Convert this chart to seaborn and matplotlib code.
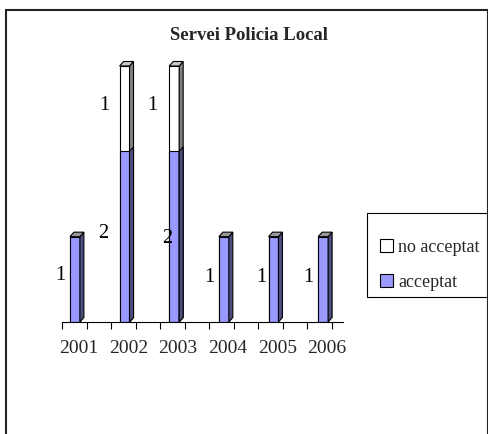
import matplotlib
matplotlib.use("Agg")
import matplotlib.pyplot as plt
import seaborn as sns
import pandas as pd
import numpy as np
from matplotlib.patches import Polygon, Patch, Rectangle

years = ["2001", "2002", "2003", "2004", "2005", "2006"]
acceptat = [1, 2, 2, 1, 1, 1]
no_acceptat = [0, 1, 1, 0, 0, 0]
title = "Servei Policia Local"
series_names = ["no acceptat", "acceptat"]

sns.set_theme(style="white")
plt.rcParams["font.family"] = ["Liberation Serif", "DejaVu Serif"]

total = [a + n for a, n in zip(acceptat, no_acceptat)]
df = pd.DataFrame({"year": years, "acceptat": acceptat, "total": total})

fig = plt.figure(figsize=(4.89, 4.34), dpi=100)
W, H = 489, 434
ax = fig.add_axes([62 / W, 1 - 322 / H, (343 - 62) / W, (322 - 66) / H])

BLUE = "#9999ff"
sns.barplot(data=df, x="year", y="total", color="white", width=0.2,
            edgecolor="black", linewidth=0.8, ax=ax, saturation=1)
sns.barplot(data=df, x="year", y="acceptat", color=BLUE, width=0.2,
            edgecolor="black", linewidth=0.8, ax=ax, saturation=1)

ax.set_xlim(-0.26, 5.4)
ax.set_ylim(0, 3)

# pixel -> data conversions for 3D depth
ppx = 281 / (5.4 + 0.26)
ppy = 256 / 3
dx = 4 / ppx
dy = 4.5 / ppy

patches = list(ax.patches)
n = len(years)
white_bars = patches[:n]
blue_bars = patches[n:2 * n]

def add_depth(p, side_color, top_color, draw_top=True):
    x0 = p.get_x(); w = p.get_width(); y0 = p.get_y(); h = p.get_height()
    if h <= 0:
        return
    x1 = x0 + w; y1 = y0 + h
    side = Polygon([(x1, y0), (x1 + dx, y0 + dy), (x1 + dx, y1 + dy), (x1, y1)],
                   closed=True, facecolor=side_color, edgecolor="black",
                   linewidth=0.8, clip_on=False, zorder=p.get_zorder())
    ax.add_patch(side)
    if draw_top:
        top = Polygon([(x0, y1), (x1, y1), (x1 + dx, y1 + dy), (x0 + dx, y1 + dy)],
                      closed=True, facecolor=top_color, edgecolor="black",
                      linewidth=0.8, clip_on=False, zorder=p.get_zorder())
        ax.add_patch(top)

for wb, bb, a, nn in zip(white_bars, blue_bars, acceptat, no_acceptat):
    if nn > 0:
        add_depth(wb, "#808080", "#c8c8c8", True)
        add_depth(bb, "#4d4d80", "#999999", False)
    else:
        add_depth(bb, "#4d4d80", "#999999", True)

# data labels
acc_gap = [5, 11, -3, 5, 2, 5]
no_gap = [0, 10, 12, 0, 0, 0]
acc_dy = [4, 3, -2, 2, 2, 2]
for i, bb in enumerate(blue_bars):
    xl = bb.get_x()
    ax.annotate(str(acceptat[i]), (xl, acceptat[i] / 2),
                xytext=(-acc_gap[i] * 0.72, acc_dy[i] * 0.72),
                textcoords="offset points", ha="right", va="center", fontsize=14.5,
                color="black", annotation_clip=False)
    if no_acceptat[i] > 0:
        ax.annotate(str(no_acceptat[i]), (xl, acceptat[i] + no_acceptat[i] / 2),
                    xytext=(-no_gap[i] * 0.72, 2), textcoords="offset points",
                    ha="right", va="center", fontsize=14.5, color="black",
                    annotation_clip=False)

# axes styling
for s in ["top", "right", "left"]:
    ax.spines[s].set_visible(False)
ax.spines["bottom"].set_color("black")
ax.spines["bottom"].set_linewidth(0.8)
ax.set_yticks([])
ax.set_xlabel("")
ax.set_ylabel("")
ax.set_xticks([i + 0.08 for i in range(n)])
ax.set_xticklabels(years, fontsize=14)
ax.tick_params(axis="x", which="major", length=0, pad=13)
ax.set_xticks([-0.26 + 0.494 * k for k in range(12)], minor=True)
ax.tick_params(axis="x", which="minor", length=5, width=0.8, color="black",
               direction="out", bottom=True)

fig.text(249.5 / W, 1 - 36 / H, title, ha="center", va="center",
         fontsize=13.5, fontweight="bold")

handles = [Patch(facecolor="white", edgecolor="black", linewidth=0.8),
           Patch(facecolor=BLUE, edgecolor="black", linewidth=0.8)]
leg = fig.legend(handles, series_names, loc="center left",
                 bbox_to_anchor=(380 / W, 1 - 265 / H), fontsize=13,
                 frameon=False,
                 handlelength=0.7, handleheight=0.7, handletextpad=0.3,
                 labelspacing=1.0, borderpad=0, borderaxespad=0)

# legend box
fig.patches.append(Rectangle((367 / W, 1 - 297 / H), (488 - 367) / W, (297 - 213) / H,
                             transform=fig.transFigure, fill=False,
                             edgecolor="black", linewidth=0.8))

# outer chart frame
fig.patches.append(Rectangle((6 / W, -0.1), (488 - 6) / W, 1.1 - 10 / H,
                             transform=fig.transFigure, fill=False,
                             edgecolor="#222222", linewidth=1.5))

fig.savefig("out.png", dpi=100)
